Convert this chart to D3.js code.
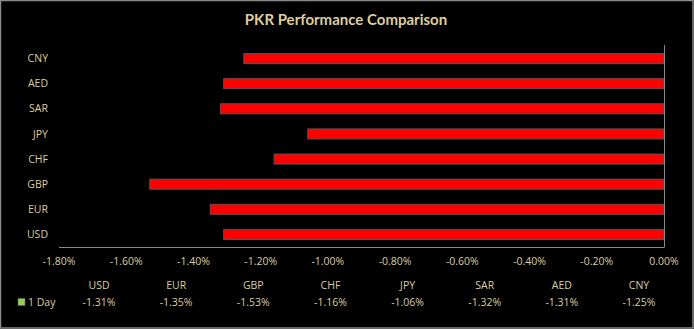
<!DOCTYPE html>
<html><head><meta charset="utf-8">
<script src="https://cdn.jsdelivr.net/npm/d3@7"></script>
<style>html,body{margin:0;padding:0;background:#000;}svg{display:block;}</style>
</head><body>
<script>
const categories = ["CNY","AED","SAR","JPY","CHF","GBP","EUR","USD"];
const values = [-1.25,-1.31,-1.32,-1.06,-1.16,-1.53,-1.35,-1.31];
const tableCats = ["USD","EUR","GBP","CHF","JPY","SAR","AED","CNY"];
const tableVals = [-1.31,-1.35,-1.53,-1.16,-1.06,-1.32,-1.31,-1.25];
const tickValues = [-1.8,-1.6,-1.4,-1.2,-1.0,-0.8,-0.6,-0.4,-0.2,0];
const seriesName = "1 Day";
const title = "PKR Performance Comparison";

const W=694,H=329, txt="#dccca2", font="'Open Sans', sans-serif";
const svg=d3.select("body").append("svg").attr("width",W).attr("height",H);
svg.append("rect").attr("x",0).attr("y",0).attr("width",W).attr("height",H).attr("fill","#000");
svg.append("rect").attr("x",0.5).attr("y",0.5).attr("width",W-1.5).attr("height",H-1.5)
  .attr("fill","none").attr("stroke","#8a8a8a").attr("stroke-width",1.5);

svg.append("text").attr("x",346).attr("y",25).attr("text-anchor","middle")
  .attr("font-family","Lato, sans-serif").attr("font-weight","bold").attr("font-size",15)
  .attr("fill",txt).text(title);

const x=d3.scaleLinear().domain([-1.8,0]).range([59,664]);
const y=d3.scaleBand().domain(categories).range([46,247]).paddingInner(0.6).paddingOuter(0.3);

svg.append("g").selectAll("rect").data(values).join("rect")
  .attr("x",d=>x(d)).attr("width",d=>x(0)-x(d))
  .attr("y",(d,i)=>y(categories[i])).attr("height",y.bandwidth())
  .attr("fill","#ff0000").attr("stroke","#555").attr("stroke-width",1);

svg.append("line").attr("x1",x(-1.8)).attr("x2",x(0)).attr("y1",247.5).attr("y2",247.5).attr("stroke","#8a8a8a");
svg.append("line").attr("x1",x(0)+0.5).attr("x2",x(0)+0.5).attr("y1",45).attr("y2",247.5).attr("stroke","#8a8a8a");

svg.append("g").selectAll("text").data(categories).join("text")
  .attr("x",48).attr("y",d=>y(d)+y.bandwidth()/2).attr("dy","0.35em").attr("text-anchor","end")
  .attr("font-family",font).attr("font-size",10.5).attr("fill",txt).text(d=>d);

svg.append("g").selectAll("text").data(tickValues).join("text")
  .attr("x",d=>x(d)).attr("y",261).attr("dy","0.35em").attr("text-anchor","middle")
  .attr("font-family",font).attr("font-size",10.5).attr("fill",txt)
  .text(d=>(d===0?"0.00":d3.format(".2f")(d).replace("−","-"))+"%");

const col=d3.scalePoint().domain(tableCats).range([99,639]);
svg.append("g").selectAll("text").data(tableCats).join("text")
  .attr("x",d=>col(d)).attr("y",285).attr("dy","0.35em").attr("text-anchor","middle")
  .attr("font-family",font).attr("font-size",10.5).attr("fill",txt).text(d=>d);
svg.append("g").selectAll("text").data(tableVals).join("text")
  .attr("x",(d,i)=>col(tableCats[i])).attr("y",302).attr("dy","0.35em").attr("text-anchor","middle")
  .attr("font-family",font).attr("font-size",10.5).attr("fill",txt)
  .text(d=>d3.format(".2f")(d).replace("−","-")+"%");
svg.append("rect").attr("x",18).attr("y",298.5).attr("width",7).attr("height",7)
  .attr("fill","#92d050").attr("stroke","#666").attr("stroke-width",0.5);
svg.append("text").attr("x",28).attr("y",302).attr("dy","0.35em")
  .attr("font-family",font).attr("font-size",10.5).attr("fill",txt).text(seriesName);
</script>
</body></html>
